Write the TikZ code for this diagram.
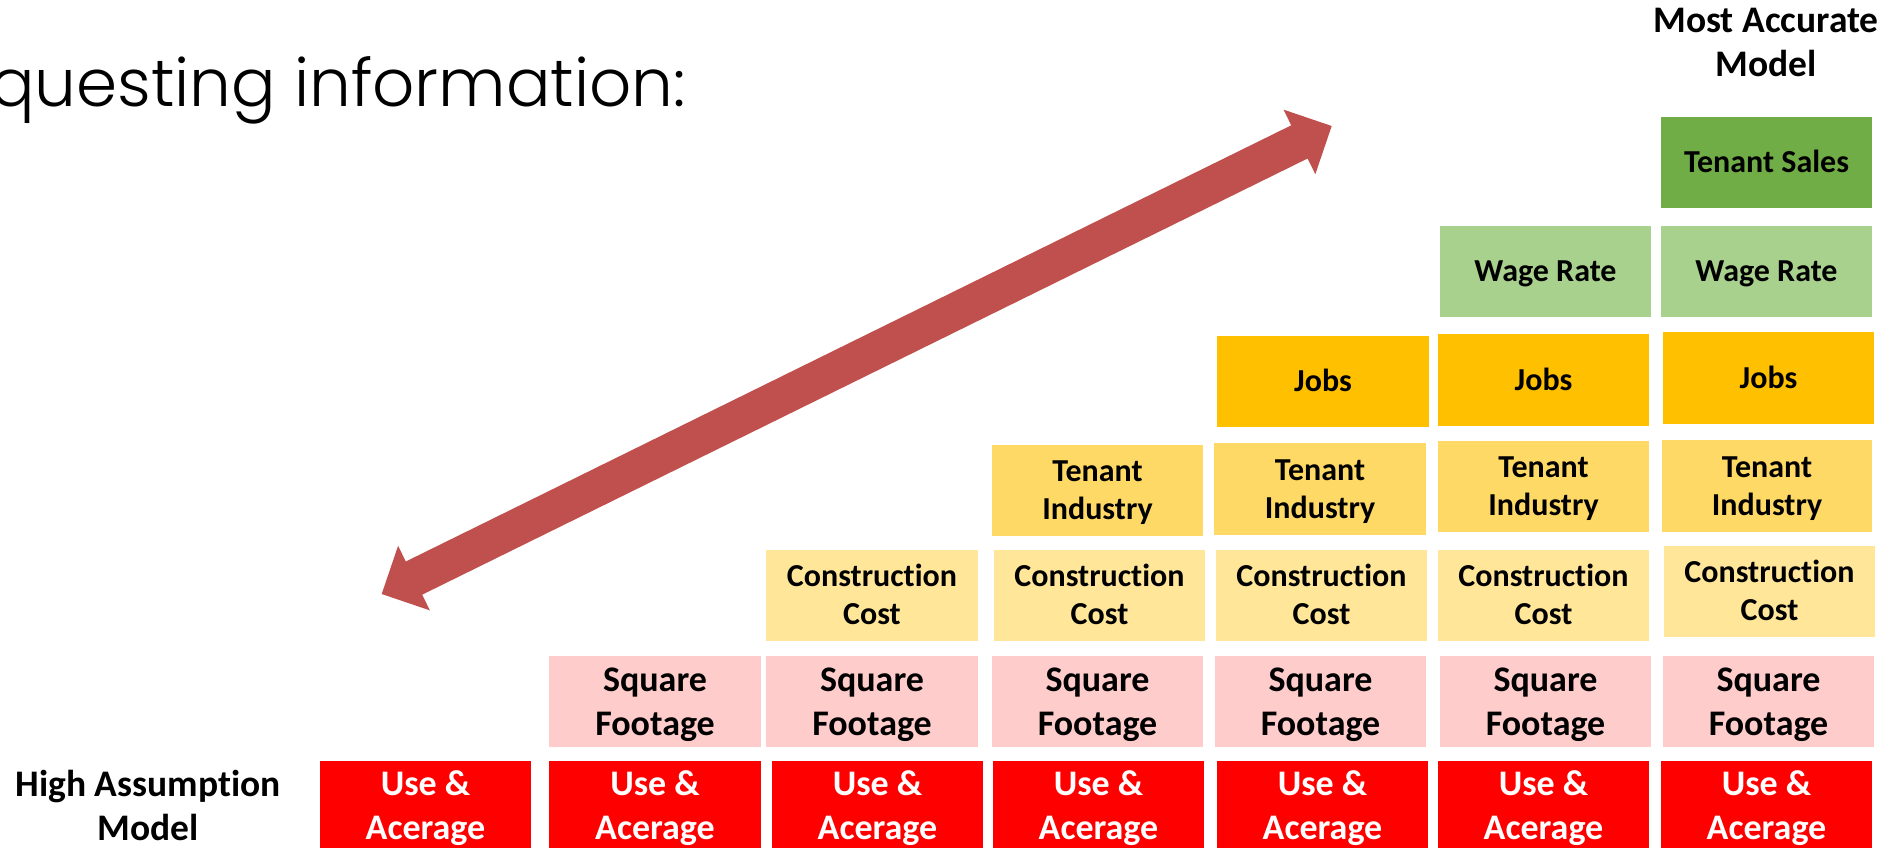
\documentclass[tikz,border=0pt]{standalone}
\usepackage{fontspec}
\setmainfont{Carlito}[Ligatures=NoCommon]
\newfontfamily\titlefont{Poppins Light}
\usetikzlibrary{calc}

\definecolor{arrowred}{HTML}{C0504D}
\definecolor{usered}{HTML}{FF0000}
\definecolor{sqpink}{HTML}{FFCCCC}
\definecolor{costgold}{HTML}{FFE699}
\definecolor{indgold}{HTML}{FFD966}
\definecolor{jobsgold}{HTML}{FFC000}
\definecolor{wagegreen}{HTML}{A9D18E}
\definecolor{salesgreen}{HTML}{70AD47}

% two centred lines whose baseline is that of the first line
\newcommand\twolines[2]{\begin{tabular}[t]{@{}c@{}}#1\\#2\end{tabular}}

% one coloured cell of the staircase: name, x1, y1, x2, y2, style, text
\newcommand\cell[7]{%
  \node[cellbox, #6, minimum width={(#4-#2)*1pt}, minimum height={(#5-#3)*1pt}]
    (#1) at ({(#2+#4)/2},{(#3+#5)/2}) {#7};}

\tikzset{
  cellbox/.style={rectangle, inner sep=0pt, outer sep=0pt, draw=none},
  bigtwo/.style={font=\fontsize{36}{44}\selectfont\bfseries, text height=23pt, text depth=44pt},
  smalltwo/.style={font=\fontsize{32}{38}\selectfont\bfseries, text height=20.5pt, text depth=38pt},
  smallone/.style={font=\fontsize{32}{38}\selectfont\bfseries, text height=20.5pt, text depth=0pt},
  usecell/.style={bigtwo, fill=usered, text=white},
  sqcell/.style={bigtwo, fill=sqpink},
  costcell/.style={smalltwo, fill=costgold},
  indcell/.style={smalltwo, fill=indgold},
  jobscell/.style={smallone, fill=jobsgold},
  wagecell/.style={smallone, fill=wagegreen},
  salescell/.style={smallone, fill=salesgreen},
  endlabel/.style={inner sep=0pt, anchor=base, font=\fontsize{37.5}{44}\selectfont\bfseries},
}

\begin{document}
\begin{tikzpicture}[x=1pt, y=-1pt]
\useasboundingbox (0,0) rectangle (1888,847);
\fill[white] (0,0) rectangle (1888,847);
\clip (0,0) rectangle (1888,847);

% heading, running in from the left edge
\node[inner sep=0pt, anchor=base east, font=\titlefont\fontsize{66}{70}\selectfont] (title)
  at (686,106) {questing information:};

% bottom row: use & acerage
\cell{use1}{320}{761}{531}{851}{usecell}{\twolines{Use \&}{Acerage}}
\cell{use2}{549}{761}{761}{851}{usecell}{\twolines{Use \&}{Acerage}}
\cell{use3}{772}{761}{983}{851}{usecell}{\twolines{Use \&}{Acerage}}
\cell{use4}{993}{761}{1204}{851}{usecell}{\twolines{Use \&}{Acerage}}
\cell{use5}{1217}{761}{1428}{851}{usecell}{\twolines{Use \&}{Acerage}}
\cell{use6}{1438}{761}{1649}{851}{usecell}{\twolines{Use \&}{Acerage}}
\cell{use7}{1661}{761}{1872}{851}{usecell}{\twolines{Use \&}{Acerage}}

% square footage
\cell{sq2}{549}{656}{761}{747}{sqcell}{\twolines{Square}{Footage}}
\cell{sq3}{766}{656}{978}{747}{sqcell}{\twolines{Square}{Footage}}
\cell{sq4}{992}{656}{1203}{747}{sqcell}{\twolines{Square}{Footage}}
\cell{sq5}{1215}{656}{1426}{747}{sqcell}{\twolines{Square}{Footage}}
\cell{sq6}{1440}{656}{1651}{747}{sqcell}{\twolines{Square}{Footage}}
\cell{sq7}{1663}{656}{1874}{747}{sqcell}{\twolines{Square}{Footage}}

% construction cost
\cell{cost3}{766}{550}{978}{641}{costcell}{\twolines{Construction}{Cost}}
\cell{cost4}{994}{550}{1205}{641}{costcell}{\twolines{Construction}{Cost}}
\cell{cost5}{1216}{550}{1427}{641}{costcell}{\twolines{Construction}{Cost}}
\cell{cost6}{1438}{550}{1649}{641}{costcell}{\twolines{Construction}{Cost}}
\cell{cost7}{1664}{546}{1875}{637}{costcell}{\twolines{Construction}{Cost}}

% tenant industry
\cell{ind4}{992}{445}{1203}{536}{indcell}{\twolines{Tenant}{Industry}}
\cell{ind5}{1214}{443}{1426}{535}{indcell}{\twolines{Tenant}{Industry}}
\cell{ind6}{1438}{441}{1649}{532}{indcell}{\twolines{Tenant}{Industry}}
\cell{ind7}{1662}{440}{1872}{532}{indcell}{\twolines{Tenant}{Industry}}

% jobs
\cell{jobs5}{1217}{336}{1429}{427}{jobscell}{Jobs}
\cell{jobs6}{1438}{334}{1649}{426}{jobscell}{Jobs}
\cell{jobs7}{1663}{332}{1874}{424}{jobscell}{Jobs}

% wage rate
\cell{wage6}{1440}{226}{1651}{317}{wagecell}{Wage Rate}
\cell{wage7}{1661}{226}{1872}{317}{wagecell}{Wage Rate}

% tenant sales
\cell{sales7}{1661}{117}{1872}{208}{salescell}{Tenant Sales}

% end labels of the scale
\node[endlabel] (lowend) at (148,796) {\twolines{High Assumption}{Model}};
\node[endlabel] (highend) at (1766,32) {\twolines{Most Accurate}{Model}};

% double-headed block arrow between the two ends
\coordinate (lo) at (381.7,594);
\coordinate (hi) at (1331.7,126);
\fill[arrowred] (lo)
  -- ($(lo)!36pt!(hi)!36pt!90:(hi)$)
  -- ($(lo)!36pt!(hi)!18.5pt!90:(hi)$)
  -- ($(hi)!36pt!(lo)!18.5pt!-90:(lo)$)
  -- ($(hi)!36pt!(lo)!36pt!-90:(lo)$)
  -- (hi)
  -- ($(hi)!36pt!(lo)!36pt!90:(lo)$)
  -- ($(hi)!36pt!(lo)!18.5pt!90:(lo)$)
  -- ($(lo)!36pt!(hi)!18.5pt!-90:(hi)$)
  -- ($(lo)!36pt!(hi)!36pt!-90:(hi)$)
  -- cycle;
\end{tikzpicture}
\end{document}
